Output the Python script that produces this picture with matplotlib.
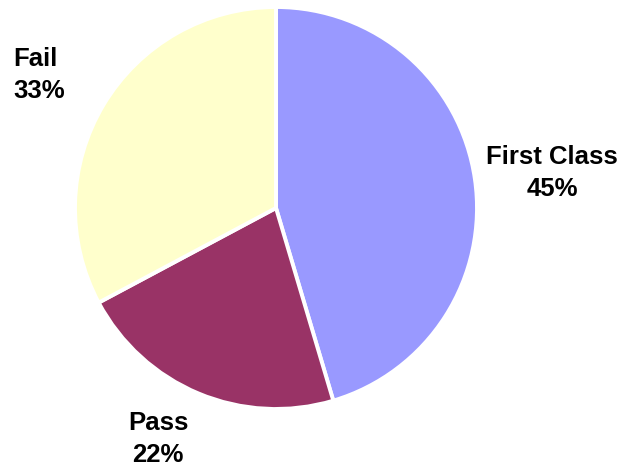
import matplotlib
matplotlib.use("Agg")
from matplotlib import pyplot as plt

categories = ["First Class", "Pass", "Fail"]
values = [45.4, 21.8, 32.8]
colors = ["#9999FF", "#993366", "#FFFFCC"]

W, H = 624, 467
cx, cy, R = 276, 208, 201

# label block centres in pixels (from top-left) and alignment
label_pos = [(552, 173, "center"), (158, 439, "center"), (13, 75, "left")]

plt.rcParams['font.family'] = ['Liberation Sans', 'DejaVu Sans']

fig = plt.figure(figsize=(W / 100, H / 100), dpi=100)
ax = fig.add_axes([0, 0, 1, 1])
ax.set_xlim(0, W)
ax.set_ylim(0, H)
ax.set_aspect("equal")
ax.axis("off")

total = sum(values)
wedges, _ = ax.pie(values, colors=colors, startangle=90, counterclock=False,
                   center=(cx, H - cy), radius=R,
                   wedgeprops=dict(edgecolor="white", linewidth=2.8))

for name, v, (x, y, ha) in zip(categories, values, label_pos):
    ax.text(x, H - y, f"{name}\n{round(100 * v / total)}%", ha=ha, va="center",
            multialignment=ha, fontsize=18.5, fontweight="bold",
            linespacing=1.4)

ax.set_xlim(0, W)
ax.set_ylim(0, H)
plt.savefig("out.png", dpi=100)
